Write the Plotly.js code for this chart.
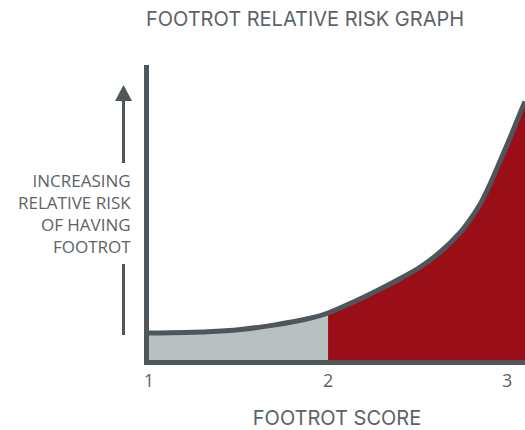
<!DOCTYPE html>
<html>
<head>
<meta charset="utf-8">
<script src="https://cdn.plot.ly/plotly-3.0.1.min.js"></script>
<style>html,body{margin:0;padding:0;background:#fff;}#chart{width:525px;height:430px;}</style>
</head>
<body>
<div id="chart"></div>
<script>
// ---- data ----
var scoreX = [1, 1.329, 1.513, 1.696, 1.886, 2.0, 2.142, 2.292, 2.404, 2.515, 2.627, 2.738, 2.794, 2.850, 2.905, 2.961, 3.017, 3.072, 3.10];
var riskY  = [27, 28.3, 30.6, 34.9, 41.2, 47, 58, 71, 81.5, 93, 108, 127.5, 140.5, 156, 176, 199, 222.5, 246.5, 258.5];
var tickVals = [1, 2, 3];
var tickText = ['1', '2', '3'];
var threshold = 2;
var chartTitle = 'FOOTROT RELATIVE RISK GRAPH';
var xTitle = 'FOOTROT SCORE';
var yLabelLines = ['INCREASING', 'RELATIVE RISK', 'OF HAVING', 'FOOTROT'];

// ---- styling ----
var W = 525, H = 430;
var M = {l: 149, r: 0, t: 65, b: 70};
var PW = W - M.l - M.r, PH = H - M.t - M.b;
function px(xp) { return (xp - M.l) / PW; }
function py(yp) { return (H - M.b - yp) / PH; }
var dark = '#4e565b';
var textCol = '#5b6368';
var red = '#9a0e18';
var grey = '#b9c0c2';

var lowX = [], lowY = [], highX = [], highY = [];
for (var i = 0; i < scoreX.length; i++) {
  if (scoreX[i] <= threshold) { lowX.push(scoreX[i]); lowY.push(riskY[i]); }
  if (scoreX[i] >= threshold) { highX.push(scoreX[i]); highY.push(riskY[i]); }
}

var sm = 0.8;
var traces = [
  {x: lowX, y: lowY, type: 'scatter', mode: 'lines', fill: 'tozeroy', fillcolor: grey,
   line: {width: 0, shape: 'spline', smoothing: sm}, hoverinfo: 'skip', showlegend: false},
  {x: highX, y: highY, type: 'scatter', mode: 'lines', fill: 'tozeroy', fillcolor: red,
   line: {width: 0, shape: 'spline', smoothing: sm}, hoverinfo: 'skip', showlegend: false},
  {x: scoreX, y: riskY, type: 'scatter', mode: 'lines',
   line: {width: 5, color: dark, shape: 'spline', smoothing: sm}, showlegend: false}
];

var annotations = [
  {xref: 'paper', yref: 'paper', x: px(133), y: py(213),
   xanchor: 'right', yanchor: 'middle', align: 'right', showarrow: false,
   text: yLabelLines.join('<br>'),
   font: {family: 'Open Sans, sans-serif', size: 17, color: textCol}}
];

var shapes = [
  {type: 'line', xref: 'paper', yref: 'paper', x0: px(123.5), x1: px(123.5), y0: py(98), y1: py(163),
   line: {color: dark, width: 3}},
  {type: 'line', xref: 'paper', yref: 'paper', x0: px(123.5), x1: px(123.5), y0: py(264), y1: py(335),
   line: {color: dark, width: 3}},
  {type: 'path', xref: 'paper', yref: 'paper',
   path: 'M ' + px(123.5) + ' ' + py(85) + ' L ' + px(115) + ' ' + py(101) + ' L ' + px(132) + ' ' + py(101) + ' Z',
   fillcolor: dark, line: {width: 0}}
];

var layout = {
  width: W, height: H,
  margin: M,
  paper_bgcolor: '#fff', plot_bgcolor: '#fff',
  title: {text: chartTitle, xref: 'container', yref: 'container', x: 305 / W, y: 1 - 19 / H,
    xanchor: 'center', yanchor: 'middle',
    font: {family: 'Inter, sans-serif', size: 20, color: textCol}},
  xaxis: {range: [1, 3.10], tickvals: tickVals, ticktext: tickText, showgrid: false, zeroline: false,
    showline: true, linewidth: 5, linecolor: dark, ticks: '',
    tickfont: {family: 'Open Sans, sans-serif', size: 18, color: textCol},
    title: {text: xTitle, standoff: 24, font: {family: 'Inter, sans-serif', size: 20, color: textCol}},
    fixedrange: true},
  yaxis: {range: [0, 295], showgrid: false, zeroline: false, showline: true, linewidth: 5, linecolor: dark,
    showticklabels: false, ticks: '', fixedrange: true},
  annotations: annotations,
  shapes: shapes,
  showlegend: false
};

Plotly.newPlot('chart', traces, layout, {displayModeBar: false, staticPlot: true});
</script>
</body>
</html>
